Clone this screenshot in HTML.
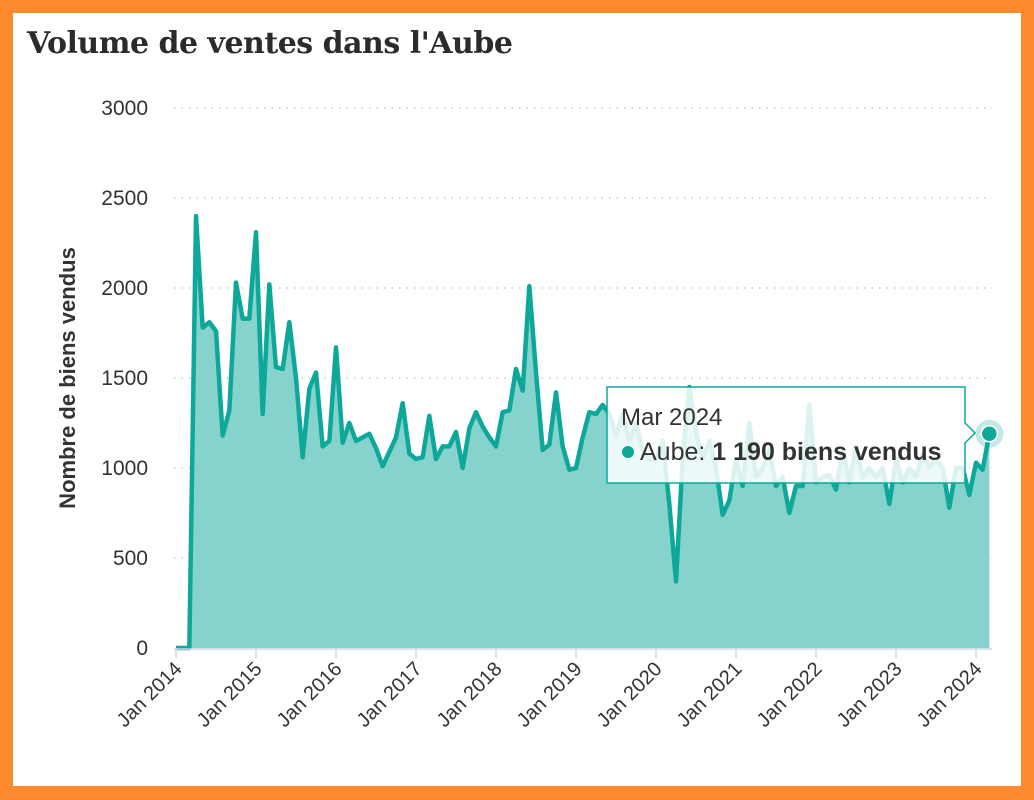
<!DOCTYPE html>
<html><head><meta charset="utf-8">
<style>
html,body{margin:0;padding:0;}
body{width:1034px;height:800px;background:#fd8a2c;position:relative;overflow:hidden;}
#card{position:absolute;left:13px;top:13px;width:1008px;height:773px;background:#fff;}
#title{position:absolute;left:27px;top:26px;font-family:"DejaVu Serif","Liberation Serif",serif;font-weight:bold;font-size:30px;color:#2b2b2b;letter-spacing:-0.5px;}
svg{position:absolute;left:0;top:0;}
</style></head>
<body>
<div id="card"></div>
<div id="title">Volume de ventes dans l'Aube</div>
<svg id="chart" width="1034" height="800"></svg>
<script>
const yTicks=[0,500,1000,1500,2000,2500,3000];
const xLabels=["Jan 2014","Jan 2015","Jan 2016","Jan 2017","Jan 2018","Jan 2019","Jan 2020","Jan 2021","Jan 2022","Jan 2023","Jan 2024"];
const values2014=[0,0,0,2400,1780,1810,1760,1180,1320,2030,1830,1830];
const values2015=[2310,1300,2020,1560,1550,1810,1500,1060,1440,1530,1120,1150];
const values2016=[1670,1140,1250,1150,1170,1190,1110,1010,1090,1170,1360,1080];
const values2017=[1050,1060,1290,1050,1120,1120,1200,1000,1220,1310,1230,1170];
const values2018=[1120,1310,1320,1550,1430,2010,1530,1100,1130,1420,1120,990];
const values2019=[1000,1170,1310,1300,1350,1300,1180,1300,1150,1250,1100,1050];
const values2020=[1050,1150,800,370,1050,1450,1200,1050,1150,1000,740,820];
const values2021=[1050,900,1250,950,1000,1100,900,950,750,900,900,1350];
const values2022=[920,950,960,880,1100,920,1120,950,1000,950,1000,800];
const values2023=[1050,920,1000,950,1080,1000,1050,1000,780,1000,1000,850];
const values2024=[1030,990,1190];
const values=[].concat(values2014,values2015,values2016,values2017,values2018,values2019,values2020,values2021,values2022,values2023,values2024);

const NS="http://www.w3.org/2000/svg";
const svg=document.getElementById('chart');
const x0=176,pxPerMonth=80/12,y0=648,yMax=3000,plotH=540;
const xs=i=>x0+i*pxPerMonth;
const ys=v=>y0-v/yMax*plotH;
function mk(t,a){const e=document.createElementNS(NS,t);for(const k in a)e.setAttribute(k,a[k]);svg.appendChild(e);return e;}

yTicks.forEach((t,i)=>{
  if(t>0){const g=mk('line',{x1:174,x2:992,y1:ys(t),y2:ys(t),stroke:'#cccccc','stroke-width':1.5,'stroke-dasharray':'1.5 6'});
  
  }
  const l=mk('text',{x:148,y:ys(t)+7,'text-anchor':'end','font-family':'Liberation Sans, sans-serif','font-size':21,fill:'#333'});
  l.textContent=t;
  
  
});
const yt=mk('text',{x:0,y:0,transform:'translate(75,378) rotate(-90)','text-anchor':'middle','font-family':'Liberation Sans, sans-serif','font-weight':'bold','font-size':22,fill:'#333'});
yt.textContent='Nombre de biens vendus';



let d='M'+xs(0)+','+y0;
values.forEach((v,i)=>{d+=' L'+xs(i).toFixed(2)+','+ys(v).toFixed(2);});
const last=values.length-1;
const area=mk('path',{d:d+' L'+xs(last)+','+y0+' Z',fill:'#86d3cd'});


let ld='';
values.forEach((v,i)=>{ld+=(i?' L':'M')+xs(i).toFixed(2)+','+ys(v).toFixed(2);});
const line=mk('path',{d:ld,fill:'none',stroke:'#0ea89b','stroke-width':4.5,'stroke-linejoin':'round'});



const ax=mk('line',{x1:174,x2:992,y1:y0+1,y2:y0+1,stroke:'#ccd6eb','stroke-width':1.5});


xLabels.forEach((lab,i)=>{
  const x=xs(i*12);
  const tk=mk('line',{x1:x,x2:x,y1:y0,y2:y0+10,stroke:'#ccd6eb','stroke-width':1.5});
  
  
  const t=mk('text',{x:0,y:0,transform:'translate('+(x+7)+','+(y0+22)+') rotate(-45)','text-anchor':'end','font-family':'Liberation Sans, sans-serif','font-size':20,fill:'#333'});
  t.textContent=lab;
  
  
});

const tip=mk('path',{d:'M607,387 H965 V423 L975,433 L965,443 V483 H607 Z',fill:'rgba(255,255,255,0.85)',stroke:'#0ea89b','stroke-width':1.5});


const tt=mk('text',{x:621,y:425,'font-family':'Liberation Sans, sans-serif','font-size':24,fill:'#333'});
tt.textContent='Mar 2024';


const dot=mk('circle',{cx:628,cy:452,r:6,fill:'#0ea89b'});


const tv=mk('text',{x:640,y:460,'font-family':'Liberation Sans, sans-serif','font-size':25,fill:'#333'});
tv.innerHTML='Aube: <tspan font-weight="bold">1 190 biens vendus</tspan>';



const halo=mk('circle',{cx:xs(last),cy:ys(values[last]),r:14,fill:'#0ea89b','fill-opacity':0.25});


const pt=mk('circle',{cx:xs(last),cy:ys(values[last]),r:8,fill:'#0ea89b',stroke:'#fff','stroke-width':1.5});


</script>
</body></html>
